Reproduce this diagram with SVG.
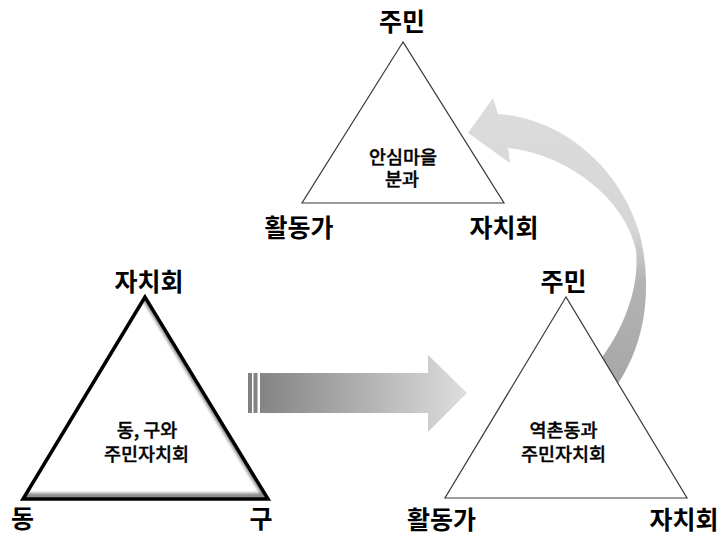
<svg xmlns="http://www.w3.org/2000/svg" width="720" height="533" viewBox="0 0 720 533">
<style>
text{font-family:"Noto Sans CJK KR","Noto Sans",sans-serif;fill:#000;text-anchor:middle;dominant-baseline:central}
.lbl{font-size:25px;font-weight:bold}
.ctr{font-size:18.5px;font-weight:500;stroke:#000;stroke-width:0.35}
.thin{fill:#fff;stroke:#3a3a3a;stroke-width:1.2}
</style>
<defs>
<linearGradient id="gStraight" gradientUnits="userSpaceOnUse" x1="248" y1="0" x2="467" y2="0">
<stop offset="0" stop-color="#7f7f7f"/>
<stop offset="1" stop-color="#dedede"/>
</linearGradient>
<linearGradient id="gCurve" gradientUnits="userSpaceOnUse" x1="0" y1="100" x2="0" y2="390">
<stop offset="0" stop-color="#dcdcdc"/>
<stop offset="0.45" stop-color="#d6d6d6"/>
<stop offset="0.62" stop-color="#b4b4b4"/>
<stop offset="1" stop-color="#a6a6a6"/>
</linearGradient>
<clipPath id="clipL"><polygon points="145,297 23,499 268,499"/></clipPath>
<filter id="blurS" x="-10%" y="-10%" width="120%" height="120%"><feGaussianBlur stdDeviation="1.6"/></filter>
</defs>

<g id="connectors">
<g id="arrow-straight" fill="url(#gStraight)">
<rect x="248" y="373" width="4" height="40"/>
<rect x="253.5" y="373" width="4" height="40"/>
<rect x="260" y="373" width="169" height="40"/>
<polygon points="428,355 467,393 428,432"/>
</g>
<path id="arrow-curved" fill="url(#gCurve)" d="M468,133 L493,98 L498,114 C560,118 620,165 640,235 C652,285 648,345 612,392 L592,370 C622,335 640,290 636,250 C625,200 570,155 508,148 L510,163 Z"/>
</g>

<g id="node-left">
<polygon points="145,297 23,499 268,499" fill="#fff"/>
<g clip-path="url(#clipL)"><polygon points="145,297 23,499 268,499" transform="translate(-2.5,-3)" fill="none" stroke="#8a8a8a" stroke-width="6" filter="url(#blurS)"/></g>
<polygon points="145,297 23,499 268,499" fill="none" stroke="#000" stroke-width="3.5"/>
<text class="ctr" x="147" y="429">동, 구와</text>
<text class="ctr" x="146.5" y="453">주민자치회</text>
<text class="lbl" x="149" y="280">자치회</text>
<text class="lbl" x="22.5" y="517">동</text>
<text class="lbl" x="261" y="517">구</text>
</g>

<g id="node-top">
<polygon class="thin" points="403,42 302,203 504,203"/>
<text class="ctr" x="403" y="156">안심마을</text>
<text class="ctr" x="402" y="178">분과</text>
<text class="lbl" x="402" y="19.5">주민</text>
<text class="lbl" x="299" y="226">활동가</text>
<text class="lbl" x="504" y="226">자치회</text>
</g>

<g id="node-right">
<polygon class="thin" points="566,297 445,498 687,498"/>
<text class="ctr" x="563.5" y="429">역촌동과</text>
<text class="ctr" x="563.5" y="452.5">주민자치회</text>
<text class="lbl" x="563.5" y="280">주민</text>
<text class="lbl" x="441.5" y="517.5">활동가</text>
<text class="lbl" x="684" y="517.5">자치회</text>
</g>
</svg>
